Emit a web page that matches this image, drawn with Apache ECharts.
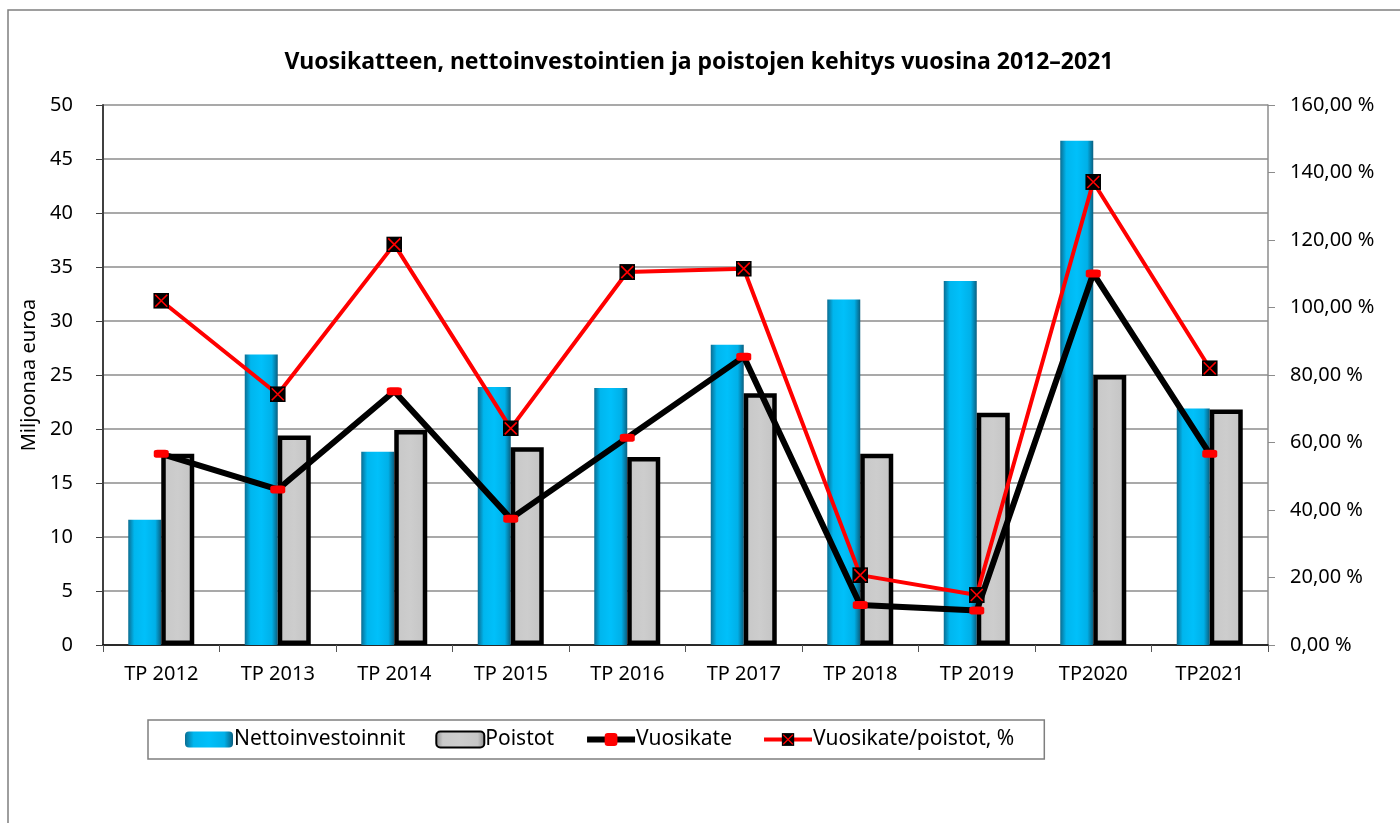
<!DOCTYPE html>
<html>
<head>
<meta charset="utf-8" />
<script src="https://cdn.jsdelivr.net/npm/echarts@6/dist/echarts.min.js"></script>
<style>
  html, body { margin: 0; padding: 0; background: #fff; }
  #chart { width: 1400px; height: 823px; }
</style>
</head>
<body>
<div id="chart"></div>
<script>
const categories = ["TP 2012", "TP 2013", "TP 2014", "TP 2015", "TP 2016", "TP 2017", "TP 2018", "TP 2019", "TP2020", "TP2021"];
const nettoinvestoinnit = [11.6, 26.9, 17.9, 23.9, 23.8, 27.8, 32.0, 33.7, 46.7, 21.9];
const poistot = [17.7, 19.4, 19.9, 18.3, 17.4, 23.3, 17.7, 21.5, 25.0, 21.8];
const vuosikate = [17.7, 14.4, 23.5, 11.7, 19.2, 26.7, 3.7, 3.2, 34.4, 17.7];
const vuosikatePoistot = [102.0, 74.3, 118.7, 64.2, 110.5, 111.5, 20.7, 14.8, 137.2, 82.0];

const FONT = "'Noto Sans', 'Open Sans', sans-serif";

// musta neliö punaisella rastilla
const xMarker =
  "image://data:image/svg+xml;utf8," +
  encodeURIComponent(
    '<svg xmlns="http://www.w3.org/2000/svg" width="16" height="16" viewBox="0 0 16 16">' +
      '<rect x="0" y="0" width="16" height="16" fill="#000"/>' +
      '<path d="M2 2 L14 14 M14 2 L2 14" stroke="#ff0000" stroke-width="1.6"/>' +
      "</svg>"
  );

const blueFill = new echarts.graphic.LinearGradient(0, 0, 1, 0, [
  { offset: 0, color: "#0b6d92" },
  { offset: 0.18, color: "#00b6ee" },
  { offset: 0.5, color: "#00c0fa" },
  { offset: 0.82, color: "#00b0e8" },
  { offset: 1, color: "#0a5f80" }
]);

const grayFill = new echarts.graphic.LinearGradient(0, 0, 1, 0, [
  { offset: 0, color: "#8a8a8a" },
  { offset: 0.15, color: "#c9c9c9" },
  { offset: 0.5, color: "#cdcdcd" },
  { offset: 0.85, color: "#c6c6c6" },
  { offset: 1, color: "#858585" }
]);

const pctFmt = (v) => v.toFixed(2).replace(".", ",") + " %";

const option = {
  animation: false,
  backgroundColor: "#fff",
  textStyle: { fontFamily: FONT, color: "#000" },
  graphic: [
    {
      type: "rect",
      shape: { x: 8, y: 10, width: 1420, height: 900 },
      style: { fill: "none", stroke: "#7f7f7f", lineWidth: 1.5 },
      silent: true
    }
  ],
  title: {
    text: "Vuosikatteen, nettoinvestointien ja poistojen kehitys vuosina 2012–2021",
    left: 694,
    textAlign: "center",
    top: 46,
    textStyle: { fontFamily: FONT, fontSize: 23, fontWeight: "bold", color: "#000" }
  },
  legend: {
    left: 148,
    top: 720,
    width: 897,
    height: 40,
    padding: [9, 30, 9, 37],
    borderColor: "#7f7f7f",
    borderWidth: 1.5,
    itemGap: 30,
    itemWidth: 48,
    itemHeight: 16,
    textStyle: { fontFamily: FONT, fontSize: 21, color: "#000", padding: [0, 0, 0, -4] },
    data: [
      { name: "Nettoinvestoinnit" },
      { name: "Poistot" },
      { name: "Vuosikate", lineStyle: { width: 6 } },
      { name: "Vuosikate/poistot, %", lineStyle: { width: 4 } }
    ]
  },
  grid: { left: 103, right: 132, top: 105, bottom: 178 },
  xAxis: {
    type: "category",
    data: categories,
    axisLine: { lineStyle: { color: "#000", width: 1.5 } },
    axisTick: { show: true, length: 7, lineStyle: { color: "#555" } },
    axisLabel: { fontFamily: FONT, fontSize: 20, color: "#000", margin: 19 }
  },
  yAxis: [
    {
      type: "value",
      min: 0,
      max: 50,
      interval: 5,
      name: "Miljoonaa euroa",
      nameLocation: "middle",
      nameGap: 54,
      nameRotate: 90,
      nameTextStyle: { fontFamily: FONT, fontSize: 20, color: "#000" },
      axisLine: { show: true, lineStyle: { color: "#404040", width: 2 } },
      axisTick: { show: true, length: 7, lineStyle: { color: "#404040" } },
      axisLabel: { fontFamily: FONT, fontSize: 20, color: "#000", margin: 30 },
      splitLine: { lineStyle: { color: "#8c8c8c", width: 1.5 } }
    },
    {
      type: "value",
      min: 0,
      max: 160,
      interval: 20,
      position: "right",
      axisLine: { show: true, lineStyle: { color: "#8c8c8c", width: 1.5 } },
      axisTick: { show: true, length: 7, lineStyle: { color: "#8c8c8c" } },
      axisLabel: { fontFamily: FONT, fontSize: 20, color: "#000", margin: 22, formatter: pctFmt },
      splitLine: { show: false }
    }
  ],
  series: [
    {
      name: "Nettoinvestoinnit",
      type: "bar",
      data: nettoinvestoinnit,
      barWidth: 33,
      barGap: "0%",
      itemStyle: { color: blueFill },
      z: 2
    },
    {
      name: "Poistot",
      type: "bar",
      data: poistot,
      barWidth: 33,
      itemStyle: { color: grayFill, borderColor: "#000", borderWidth: 4.5 },
      z: 2
    },
    {
      name: "Vuosikate",
      type: "line",
      data: vuosikate,
      yAxisIndex: 0,
      symbol: "roundRect",
      symbolSize: [15, 8],
      showAllSymbol: true,
      lineStyle: { color: "#000", width: 6 },
      itemStyle: { color: "#ff0000", borderWidth: 0 },
      z: 4
    },
    {
      name: "Vuosikate/poistot, %",
      type: "line",
      data: vuosikatePoistot,
      yAxisIndex: 1,
      symbol: xMarker,
      symbolSize: 16,
      showAllSymbol: true,
      lineStyle: { color: "#ff0000", width: 4 },
      itemStyle: { color: "#ff0000" },
      z: 5
    }
  ]
};

const myChart = echarts.init(document.getElementById("chart"));
myChart.setOption(option);
window.onresize = function () {
  myChart.resize();
};
</script>
</body>
</html>
